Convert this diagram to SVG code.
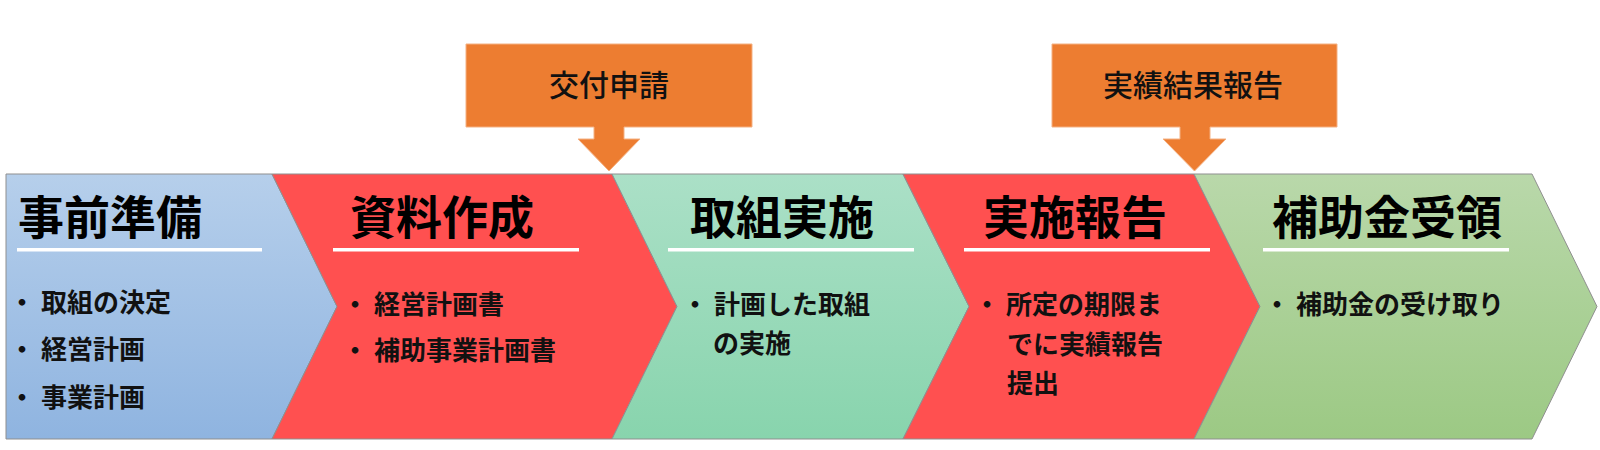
<svg xmlns="http://www.w3.org/2000/svg" width="1600" height="450" viewBox="0 0 1600 450">
<defs>
<linearGradient id="gBlue" x1="0" y1="0" x2="0" y2="1"><stop offset="0" stop-color="#b6cfeb"/><stop offset="1" stop-color="#8fb4e0"/></linearGradient>
<linearGradient id="gTeal" x1="0" y1="0" x2="0" y2="1"><stop offset="0" stop-color="#abe0c7"/><stop offset="1" stop-color="#88d4ad"/></linearGradient>
<linearGradient id="gGreen" x1="0" y1="0" x2="0" y2="1"><stop offset="0" stop-color="#b9d8aa"/><stop offset="1" stop-color="#9cc984"/></linearGradient>
<style>
.chev{stroke:#8f8f8f;stroke-width:1;stroke-linejoin:miter}
.red{fill:#ff5050}
.ul{fill:#ffffff}
.title{font-family:"Noto Sans CJK JP","Noto Sans CJK SC",sans-serif;font-size:46px;font-weight:700;fill:#000}
.item{font-family:"Noto Sans CJK JP","Noto Sans CJK SC",sans-serif;font-size:26px;font-weight:700;fill:#111}
.call{fill:#ed7d31;stroke:#f4b183;stroke-width:1}
.clabel{font-family:"Noto Sans CJK JP","Noto Sans CJK SC",sans-serif;font-size:30px;font-weight:500;fill:#111;text-anchor:middle}
</style>
</defs>
<rect width="1600" height="450" fill="#ffffff"/>

<g id="step1">
<path class="chev" fill="url(#gBlue)" d="M6,174 H272 L337,306.5 L272,439 H6 Z"/>
<text class="title" x="18" y="234">事前準備</text>
<rect class="ul" x="17" y="248" width="245" height="3.5"/>
<text class="item" x="9" y="312">・ 取組の決定</text>
<text class="item" x="9" y="359">・ 経営計画</text>
<text class="item" x="9" y="407">・ 事業計画</text>
</g>

<g id="step2">
<path class="chev red" d="M272,174 H612 L677,306.5 L612,439 H272 L337,306.5 Z"/>
<text class="title" x="350" y="234">資料作成</text>
<rect class="ul" x="333" y="248" width="246" height="3.5"/>
<text class="item" x="342" y="314">・ 経営計画書</text>
<text class="item" x="342" y="360">・ 補助事業計画書</text>
</g>

<g id="step3">
<path class="chev" fill="url(#gTeal)" d="M612,174 H903 L969,306.5 L903,439 H612 L677,306.5 Z"/>
<text class="title" x="690" y="234">取組実施</text>
<rect class="ul" x="668" y="248" width="246" height="3.5"/>
<text class="item" x="682" y="314">・ 計画した取組</text>
<text class="item" x="713" y="353">の実施</text>
</g>

<g id="step4">
<path class="chev red" d="M903,174 H1194 L1260,306.5 L1194,439 H903 L969,306.5 Z"/>
<text class="title" x="983" y="234">実施報告</text>
<rect class="ul" x="964" y="248" width="246" height="3.5"/>
<text class="item" x="974" y="314">・ 所定の期限ま</text>
<text class="item" x="1007" y="354">でに実績報告</text>
<text class="item" x="1007" y="393">提出</text>
</g>

<g id="step5">
<path class="chev" fill="url(#gGreen)" d="M1194,174 H1532 L1597,306.5 L1532,439 H1194 L1260,306.5 Z"/>
<text class="title" x="1272" y="234">補助金受領</text>
<rect class="ul" x="1263" y="248" width="246" height="3.5"/>
<text class="item" x="1264" y="314">・ 補助金の受け取り</text>
</g>

<g id="callout1">
<path class="call" d="M466,44 H752 V127 H624 V139 H640 L609,171 L578,139 H594 V127 H466 Z"/>
<text class="clabel" x="609" y="96">交付申請</text>
</g>

<g id="callout2">
<path class="call" d="M1052,44 H1337 V127 H1210 V139 H1226 L1194.5,171 L1163,139 H1180 V127 H1052 Z"/>
<text class="clabel" x="1193" y="96">実績結果報告</text>
</g>

<g id="connectors"/>
</svg>
